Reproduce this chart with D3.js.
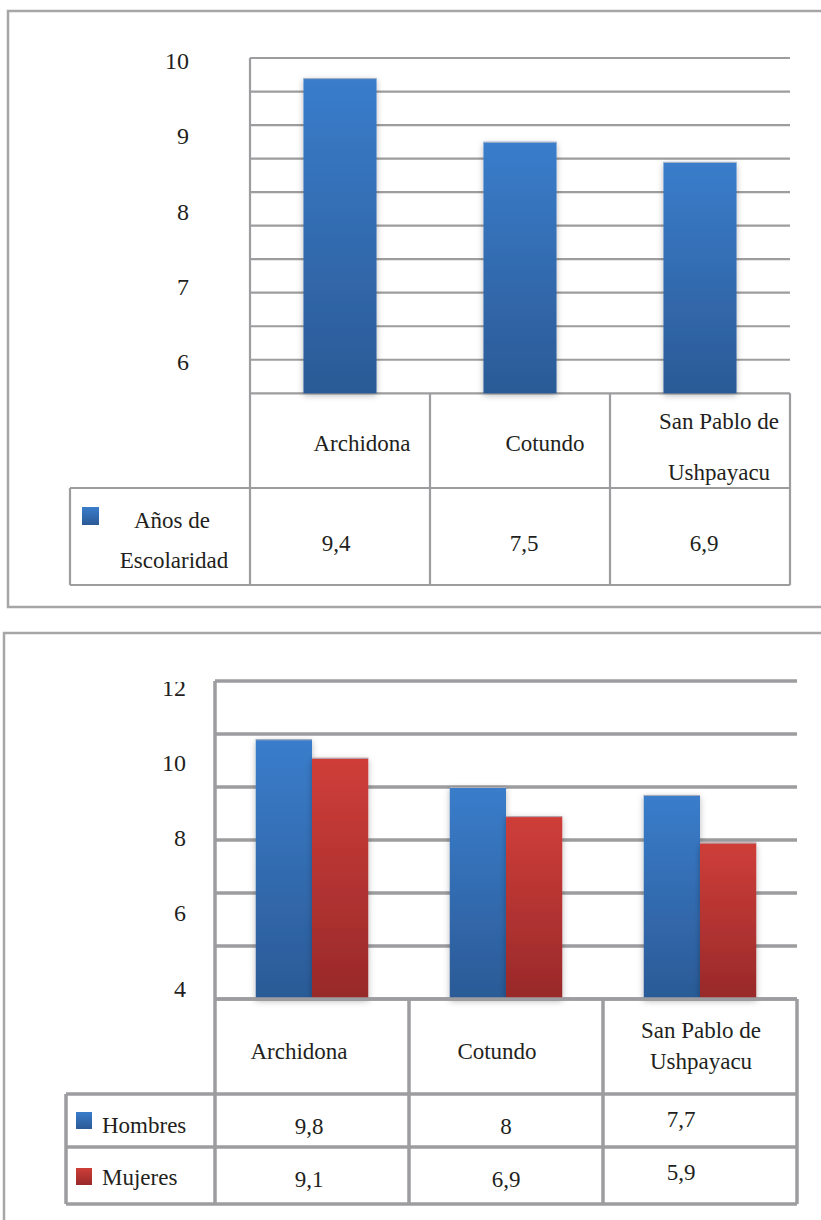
<!DOCTYPE html>
<html>
<head>
<meta charset="utf-8">
<script src="https://cdn.jsdelivr.net/npm/d3@7"></script>
<style>
  html, body { margin: 0; padding: 0; background: #fff; }
  svg { display: block; }
  svg text { font-family: "Liberation Serif", Tinos, "DejaVu Serif Condensed", "DejaVu Serif", serif; fill: #231f20; }
</style>
</head>
<body>
<script>
// ---------- DATA ----------
const categories = ["Archidona", "Cotundo", "San Pablo de Ushpayacu"];
const categoryLines = [["Archidona"], ["Cotundo"], ["San Pablo de", "Ushpayacu"]];

const seriesName1 = ["Años de", "Escolaridad"];
const escolaridad = [9.4, 7.5, 6.9];
const tickLabels1 = ["10", "9", "8", "7", "6"];

const seriesNames2 = ["Hombres", "Mujeres"];
const hombres = [9.8, 8, 7.7];
const mujeres = [9.1, 6.9, 5.9];
const tickLabels2 = ["12", "10", "8", "6", "4"];

// ---------- LAYOUT / STYLE ----------
const W = 821, H = 1220;
const gridColor = "#9d9da0";
const FONT = '"Liberation Serif", Tinos, "DejaVu Serif Condensed", "DejaVu Serif", serif';
const fmt = v => String(v).replace(".", ",");

const svg = d3.select("body").append("svg").attr("width", W).attr("height", H)
  .attr("font-family", FONT);
const defs = svg.append("defs");

function grad(id, c1, c2) {
  const g = defs.append("linearGradient").attr("id", id)
    .attr("x1", 0).attr("y1", 0).attr("x2", 0).attr("y2", 1);
  g.append("stop").attr("offset", "0%").attr("stop-color", c1);
  g.append("stop").attr("offset", "100%").attr("stop-color", c2);
}
grad("gBlue", "#3a7dcb", "#2b5a96");
grad("gRed", "#cf3e39", "#98292a");
const sh = defs.append("filter").attr("id", "shadow")
  .attr("x", "-30%").attr("y", "-10%").attr("width", "160%").attr("height", "125%");
sh.append("feDropShadow").attr("dx", 0).attr("dy", 2).attr("stdDeviation", 3)
  .attr("flood-color", "#000").attr("flood-opacity", 0.28);
defs.append("clipPath").attr("id", "clip12").append("rect")
  .attr("x", 0).attr("y", 682).attr("width", 300).attr("height", 400);

function line(g, x1, y1, x2, y2, w) {
  g.append("line").attr("x1", x1).attr("y1", y1).attr("x2", x2).attr("y2", y2)
    .attr("stroke", gridColor).attr("stroke-width", w);
}
function txt(g, x, y, s, anchor) {
  return g.append("text").attr("x", x).attr("y", y).attr("text-anchor", anchor || "middle")
    .attr("font-size", 23).attr("font-family", FONT).attr("fill", "#231f20").text(s);
}

// =============== PANEL 1 ===============
const p1 = svg.append("g");
p1.append("rect").attr("x", 8).attr("y", 11).attr("width", 900).attr("height", 596)
  .attr("fill", "none").attr("stroke", "#a6a6a8").attr("stroke-width", 2.5);

const y1 = d3.scaleLinear().domain([0, 10]).range([393.3, 58]);
const x1 = d3.scaleBand().domain(categories).range([250, 790])
  .paddingInner(0.594).paddingOuter(0.297);

y1.ticks(10).forEach(t => line(p1, 250, y1(t), 790, y1(t), 2.2));

p1.append("g").selectAll("rect").data(escolaridad).join("rect")
  .attr("x", (d, i) => x1(categories[i]))
  .attr("y", d => y1(d))
  .attr("width", x1.bandwidth())
  .attr("height", d => y1(0) - y1(d))
  .attr("fill", "url(#gBlue)")
  .attr("filter", "url(#shadow)");
p1.append("g").selectAll("line").data(escolaridad).join("line")
  .attr("x1", (d, i) => x1(categories[i])).attr("x2", (d, i) => x1(categories[i]) + x1.bandwidth())
  .attr("y1", d => y1(d) + 0.5).attr("y2", d => y1(d) + 0.5)
  .attr("stroke", "#a9b4c4").attr("stroke-width", 1);

const t1 = d3.scalePoint().domain(tickLabels1).range([y1(10) + 2.5, y1(1) + 2.5]);
const ax1 = p1.append("g").attr("transform", "translate(189,0)")
  .call(d3.axisLeft(t1).tickSize(0).tickPadding(0));
ax1.attr("font-family", FONT);
ax1.select(".domain").remove();
ax1.selectAll("text").attr("font-size", 24).attr("font-family", FONT).attr("fill", "#231f20");

const colEdge1 = i => x1.range()[0] + i * x1.step();
const rowA1 = 393.3, rowB1 = 488, rowC1 = 585, legL1 = 70;
line(p1, 250, 58, 250, rowC1, 2.2);
line(p1, legL1, rowB1, 790, rowB1, 2.2);
line(p1, legL1, rowC1, 790, rowC1, 2.2);
line(p1, legL1, rowB1, legL1, rowC1, 2.2);
[1, 2, 3].forEach(i => line(p1, colEdge1(i), rowA1, colEdge1(i), rowC1, 2.2));

const catDx1 = [22, 25, 19];
categories.forEach((c, i) => {
  const cx = x1(c) + x1.bandwidth() / 2 + catDx1[i];
  const lines = categoryLines[i];
  const base = lines.length === 1 ? [451] : [429, 480];
  lines.forEach((s, k) => txt(p1, cx, base[k], s));
});
const valDx1 = [-4, 4, 4];
escolaridad.forEach((v, i) => {
  txt(p1, x1(categories[i]) + x1.bandwidth() / 2 + valDx1[i], 551, fmt(v));
});
p1.append("rect").attr("x", 82).attr("y", 507).attr("width", 17).attr("height", 18)
  .attr("fill", "url(#gBlue)");
seriesName1.forEach((s, k) => txt(p1, k === 0 ? 172 : 174, [528, 568][k], s));

// =============== PANEL 2 ===============
const p2 = svg.append("g");
p2.append("rect").attr("x", 4).attr("y", 633).attr("width", 900).attr("height", 700)
  .attr("fill", "none").attr("stroke", "#a6a6a8").attr("stroke-width", 2.5);

const y2 = d3.scaleLinear().domain([0, 12]).range([999, 681]);
const x2 = d3.scaleBand().domain(categories).range([215, 797])
  .paddingInner(0.42).paddingOuter(0.21);
const xs = d3.scaleBand().domain(seriesNames2).range([0, x2.bandwidth()]);
const fills = { "Hombres": "url(#gBlue)", "Mujeres": "url(#gRed)" };

y2.ticks(6).forEach(t => line(p2, 215, y2(t), 797, y2(t), 3.5));

const rows2 = categories.map((c, i) => ({ c, vals: [
  { s: "Hombres", v: hombres[i] }, { s: "Mujeres", v: mujeres[i] }] }));
const grp = p2.append("g").selectAll("g").data(rows2).join("g")
  .attr("transform", d => `translate(${x2(d.c)},0)`);
grp.selectAll("rect").data(d => d.vals).join("rect")
  .attr("x", d => xs(d.s)).attr("y", d => y2(d.v))
  .attr("width", xs.bandwidth()).attr("height", d => y2(0) - y2(d.v))
  .attr("fill", d => fills[d.s]).attr("filter", "url(#shadow)");
grp.selectAll("line").data(d => d.vals).join("line")
  .attr("x1", d => xs(d.s)).attr("x2", d => xs(d.s) + xs.bandwidth())
  .attr("y1", d => y2(d.v) + 0.5).attr("y2", d => y2(d.v) + 0.5)
  .attr("stroke", "#b0b0b8").attr("stroke-width", 1);
line(p2, 215, y2(0), 797, y2(0), 3.5);

const t2 = d3.scalePoint().domain(tickLabels2).range([y2(11.75), y2(0.4)]);
const ax2 = p2.append("g").attr("clip-path", "url(#clip12)").append("g")
  .attr("transform", "translate(186,0)")
  .call(d3.axisLeft(t2).tickSize(0).tickPadding(0));
ax2.attr("font-family", FONT);
ax2.select(".domain").remove();
ax2.selectAll("text").attr("font-size", 24).attr("font-family", FONT).attr("fill", "#231f20");

const colEdge2 = i => x2.range()[0] + i * x2.step();
const rA = 999, rB = 1094, rC = 1147, rD = 1204, legL2 = 66;
line(p2, 215, 681, 215, rD, 3.5);
[rB, rC, rD].forEach(r => line(p2, legL2, r, 797, r, 3.5));
line(p2, legL2, rB, legL2, rD, 3.5);
[1, 2, 3].forEach(i => line(p2, colEdge2(i), rA, colEdge2(i), rD, 3.5));

const catDx2 = [-13, -9, 1];
categories.forEach((c, i) => {
  const cx = x2(c) + x2.bandwidth() / 2 + catDx2[i];
  const lines = categoryLines[i];
  const base = lines.length === 1 ? [1059] : [1038, 1069];
  lines.forEach((s, k) => txt(p2, cx, base[k], s));
});
const valDx2 = [-3, 0, -19];
const valDy2 = [0, 0, -7];
[hombres, mujeres].forEach((arr, r) => {
  arr.forEach((v, i) => {
    txt(p2, x2(categories[i]) + x2.bandwidth() / 2 + valDx2[i], [1134, 1187][r] + valDy2[i], fmt(v));
  });
});
seriesNames2.forEach((s, k) => {
  p2.append("rect").attr("x", 76).attr("y", [1112, 1168][k]).attr("width", 16).attr("height", 17)
    .attr("fill", fills[s]);
  txt(p2, 102, [1133, 1185][k], s, "start");
});
</script>
</body>
</html>
